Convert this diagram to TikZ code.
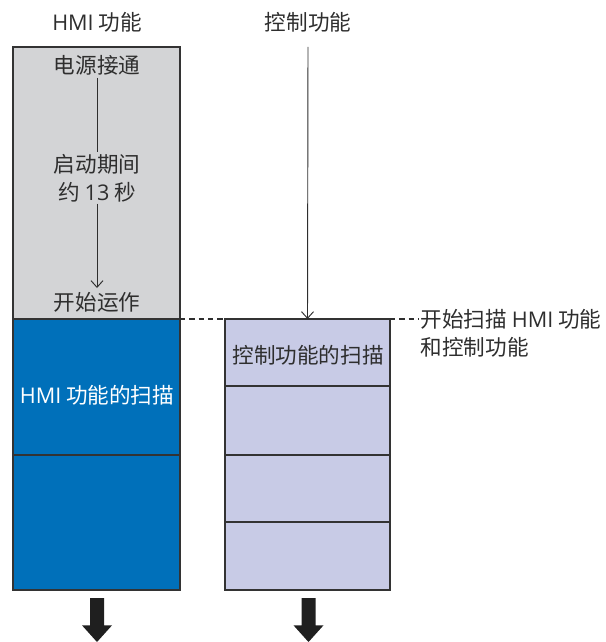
\documentclass[tikz,border=0pt]{standalone}
\usepackage{fontspec}
\setmainfont{Noto Sans CJK SC}
\newfontfamily\lat{Open Sans}
\usetikzlibrary{arrows.meta}
\definecolor{txtgray}{HTML}{2E2E2E}
\definecolor{boxgray}{HTML}{D3D4D6}
\definecolor{boxblue}{HTML}{0070BA}
\definecolor{boxlav}{HTML}{C8CBE6}
\definecolor{edge}{HTML}{333333}
\tikzset{
  cell/.style={draw=edge, line width=1.3pt, inner sep=0pt, outer sep=0pt},
  lbl/.style={font=\fontsize{16.2pt}{21pt}\selectfont, text=txtgray, inner sep=1pt},
  thin/.style={draw=txtgray, line width=0.7pt},
  guide/.style={draw=txtgray, line width=0.9pt, dash pattern=on 4pt off 3pt},
  fatarrow/.style={fill=black!88, draw=none}
}
\begin{document}
\begin{tikzpicture}[x=0.75pt,y=-0.75pt]
\useasboundingbox (0,0) rectangle (606,642);
% left column
\node[cell, fill=boxgray, minimum width=125.25pt, minimum height=204pt] (g) at (96.5,183) {};
\node[cell, fill=boxblue, minimum width=125.25pt, minimum height=102pt] (b1) at (96.5,387) {};
\node[cell, fill=boxblue, minimum width=125.25pt, minimum height=101.25pt] (b2) at (96.5,522.5) {};
% right column
\node[cell, fill=boxlav, minimum width=123.75pt, minimum height=50.25pt] (r1) at (307.5,352.5) {};
\node[cell, fill=boxlav, minimum width=123.75pt, minimum height=51.75pt] (r2) at (307.5,420.5) {};
\node[cell, fill=boxlav, minimum width=123.75pt, minimum height=50.25pt] (r3) at (307.5,488.5) {};
\node[cell, fill=boxlav, minimum width=123.75pt, minimum height=51pt] (r4) at (307.5,556) {};
% titles
\node[lbl] (t1) at (97,22) {{\lat HMI} 功能};
\node[lbl] (t2) at (308,22) {控制功能};
% left texts
\node[lbl] (s1) at (97,65) {电源接通};
\node[lbl, align=center] (s2) at (97,178) {启动期间\\约 {\lat 13} 秒};
\node[lbl] (s3) at (97,302) {开始运作};
\node[lbl, text=white] (h) at (97,395) {{\lat HMI} 功能的扫描};
\node[lbl] (c) at (308,355) {控制功能的扫描};
\node[lbl, align=left, anchor=north west] (note) at (419,308) {开始扫描 {\lat HMI} 功能\\和控制功能};
% connectors
\draw[thin] (97,78) -- (s2.north);
\draw[thin, -{Straight Barb[length=5pt,width=9pt]}] (s2.south) -- (97,288);
\draw[thin, -{Straight Barb[length=5pt,width=9pt]}] (308,47) -- (r1.north);
\draw[guide] (g.south east) -- (r1.north west);
\coordinate (ne) at (r1.north east);
\draw[guide] (ne) -- (419,319);
% fat arrows
\coordinate (a1) at (97,598);
\coordinate (a2) at (308.5,598);
\foreach \p in {a1,a2}{
  \fill[fatarrow] ([xshift=-5.25pt]\p) -- ([xshift=5.25pt]\p) -- ([xshift=5.25pt,yshift=-20.5pt]\p)
   -- ([xshift=11.25pt,yshift=-20.5pt]\p) -- ([yshift=-33pt]\p) -- ([xshift=-11.25pt,yshift=-20.5pt]\p)
   -- ([xshift=-5.25pt,yshift=-20.5pt]\p) -- cycle;
}
\end{tikzpicture}
\end{document}
